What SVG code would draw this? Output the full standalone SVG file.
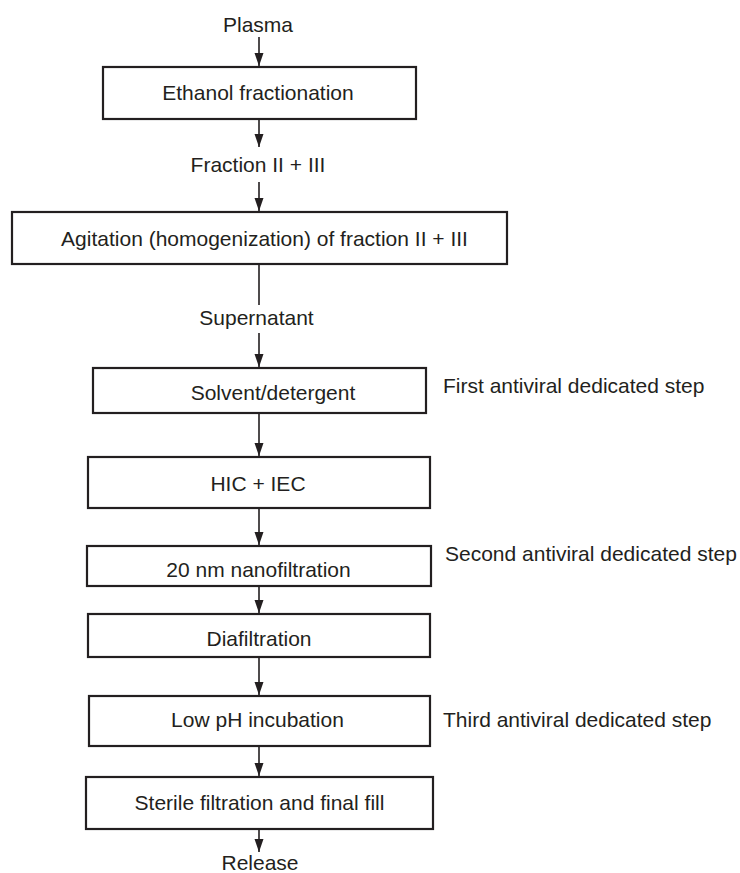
<svg xmlns="http://www.w3.org/2000/svg" width="740" height="873" viewBox="0 0 740 873">
<style>
  .box { fill: #ffffff; stroke: #231f20; stroke-width: 2.2; }
  .t { font-family: "Liberation Sans", Arial, sans-serif; font-size: 21px; fill: #231f20; text-anchor: middle; }
  .side { font-family: "Liberation Sans", Arial, sans-serif; font-size: 21px; fill: #231f20; text-anchor: start; }
  .c line { stroke: #231f20; stroke-width: 1.6; }
</style>
<defs>
  <marker id="arr" markerUnits="userSpaceOnUse" markerWidth="14" markerHeight="10" refX="13" refY="4.5" orient="auto" viewBox="0 0 14 9">
    <path d="M0,0 L13,4.5 L0,9 Z" fill="#231f20"/>
  </marker>
</defs>
<rect width="740" height="873" fill="#ffffff"/>

<g id="connectors" class="c">
  <line x1="259" y1="37" x2="259" y2="66" marker-end="url(#arr)"/>
  <line x1="259" y1="119" x2="259" y2="147" marker-end="url(#arr)"/>
  <line x1="259" y1="182" x2="259" y2="211" marker-end="url(#arr)"/>
  <line x1="259" y1="264" x2="259" y2="305"/>
  <line x1="259" y1="333" x2="259" y2="367" marker-end="url(#arr)"/>
  <line x1="259" y1="413" x2="259" y2="456" marker-end="url(#arr)"/>
  <line x1="259" y1="508" x2="259" y2="545" marker-end="url(#arr)"/>
  <line x1="259" y1="586" x2="259" y2="613" marker-end="url(#arr)"/>
  <line x1="259" y1="657" x2="259" y2="695" marker-end="url(#arr)"/>
  <line x1="259" y1="746" x2="259" y2="776" marker-end="url(#arr)"/>
  <line x1="259" y1="829" x2="259" y2="852" marker-end="url(#arr)"/>
</g>

<g id="plasma"><text class="t" x="258" y="32">Plasma</text></g>
<g id="ethanol">
  <rect class="box" x="103" y="67" width="313" height="52"/>
  <text class="t" x="258" y="100">Ethanol fractionation</text>
</g>
<g id="fraction"><text class="t" x="258" y="172">Fraction II + III</text></g>
<g id="agitation">
  <rect class="box" x="12" y="212" width="495" height="52"/>
  <text class="t" x="264.5" y="246">Agitation (homogenization) of fraction II + III</text>
</g>
<g id="supernatant"><text class="t" x="256.5" y="325">Supernatant</text></g>
<g id="solvent">
  <rect class="box" x="93" y="368" width="333" height="45"/>
  <text class="t" x="273" y="400">Solvent/detergent</text>
</g>
<g id="first-label"><text class="side" x="443" y="393">First antiviral dedicated step</text></g>
<g id="hic">
  <rect class="box" x="88" y="457" width="342" height="51"/>
  <text class="t" x="258" y="491">HIC + IEC</text>
</g>
<g id="nano">
  <rect class="box" x="87" y="546" width="344" height="40"/>
  <text class="t" x="258.5" y="577">20 nm nanofiltration</text>
</g>
<g id="second-label"><text class="side" x="445" y="561">Second antiviral dedicated step</text></g>
<g id="diafiltration">
  <rect class="box" x="88" y="614" width="342" height="43"/>
  <text class="t" x="259" y="646">Diafiltration</text>
</g>
<g id="lowph">
  <rect class="box" x="89" y="696" width="341" height="50"/>
  <text class="t" x="257.5" y="727">Low pH incubation</text>
</g>
<g id="third-label"><text class="side" x="443" y="727">Third antiviral dedicated step</text></g>
<g id="sterile">
  <rect class="box" x="86" y="777" width="347" height="52"/>
  <text class="t" x="259.5" y="810">Sterile filtration and final fill</text>
</g>
<g id="release"><text class="t" x="260" y="870">Release</text></g>
</svg>
